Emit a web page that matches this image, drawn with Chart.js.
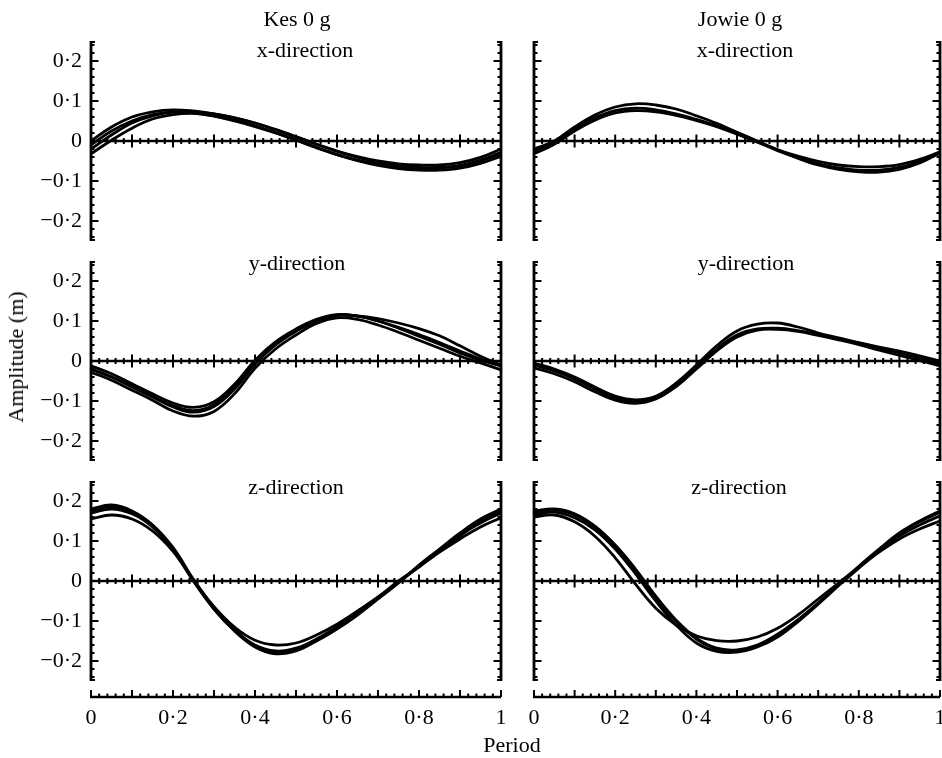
<!DOCTYPE html>
<html>
<head>
<meta charset="utf-8">
<script src="https://cdn.jsdelivr.net/npm/chart.js@4.4.1/dist/chart.umd.min.js"></script>
<style>
  body { margin: 0; background: #fff; }
  #wrap { position: relative; width: 942px; height: 758px; background: #fff; overflow: hidden; }
  #wrap canvas { position: absolute; left: 0; top: 0; }
  .lbl { position: absolute; font-family: "Liberation Serif", "DejaVu Serif", serif; font-size: 22px; color: #000;
         transform: translate(-50%, -50%); white-space: nowrap; line-height: 1; }
</style>
</head>
<body>
<div id="wrap">
  <canvas id="c1" width="942" height="758"></canvas>
  <canvas id="c2" width="942" height="758"></canvas>
  <canvas id="c3" width="942" height="758"></canvas>
  <canvas id="c4" width="942" height="758"></canvas>
  <canvas id="c5" width="942" height="758"></canvas>
  <canvas id="c6" width="942" height="758"></canvas>
  <div class="lbl" style="left:297px;top:19px">Kes 0 g</div>
  <div class="lbl" style="left:740px;top:19px">Jowie 0 g</div>
  <div class="lbl" style="left:305px;top:50px">x-direction</div>
  <div class="lbl" style="left:745px;top:50px">x-direction</div>
  <div class="lbl" style="left:297px;top:263px">y-direction</div>
  <div class="lbl" style="left:746px;top:263px">y-direction</div>
  <div class="lbl" style="left:296px;top:487px">z-direction</div>
  <div class="lbl" style="left:739px;top:487px">z-direction</div>
  <div class="lbl" style="left:16px;top:357px;transform:translate(-50%,-50%) rotate(-90deg)">Amplitude (m)</div>
  <div class="lbl" style="left:512px;top:745px">Period</div>
</div>
<script>
// period (fraction of cycle)
var period = [0, 0.05, 0.1, 0.15, 0.2, 0.25, 0.3, 0.35, 0.4, 0.45, 0.5, 0.55, 0.6, 0.65, 0.7, 0.75, 0.8, 0.85, 0.9, 0.95, 1];

// Kes 0g, amplitude (m), one row per trial
var kesX = [
  [0.0, 0.035, 0.06, 0.073, 0.078, 0.075, 0.068, 0.058, 0.045, 0.029, 0.011, -0.008, -0.025, -0.039, -0.05, -0.057, -0.06, -0.06, -0.054, -0.041, -0.02],
  [-0.02, 0.015, 0.045, 0.063, 0.072, 0.073, 0.068, 0.058, 0.045, 0.028, 0.01, -0.008, -0.026, -0.041, -0.053, -0.061, -0.066, -0.066, -0.062, -0.05, -0.032],
  [-0.032, 0.002, 0.032, 0.055, 0.066, 0.069, 0.063, 0.052, 0.038, 0.021, 0.003, -0.016, -0.034, -0.049, -0.061, -0.069, -0.073, -0.073, -0.068, -0.056, -0.038],
  [-0.01, 0.025, 0.05, 0.066, 0.073, 0.07, 0.062, 0.05, 0.036, 0.02, 0.002, -0.017, -0.034, -0.048, -0.058, -0.064, -0.068, -0.067, -0.061, -0.048, -0.028]
];
var kesY = [
  [-0.012, -0.032, -0.057, -0.082, -0.105, -0.116, -0.102, -0.058, 0.002, 0.048, 0.08, 0.104, 0.116, 0.112, 0.1, 0.082, 0.062, 0.042, 0.02, 0.002, -0.012],
  [-0.02, -0.04, -0.065, -0.09, -0.115, -0.128, -0.114, -0.07, -0.008, 0.04, 0.074, 0.1, 0.114, 0.112, 0.1, 0.084, 0.066, 0.046, 0.025, 0.005, -0.012],
  [-0.028, -0.048, -0.073, -0.098, -0.125, -0.138, -0.126, -0.082, -0.018, 0.03, 0.065, 0.094, 0.108, 0.104, 0.09, 0.072, 0.052, 0.032, 0.012, -0.005, -0.022],
  [-0.02, -0.04, -0.063, -0.088, -0.112, -0.124, -0.109, -0.064, -0.004, 0.044, 0.077, 0.102, 0.115, 0.113, 0.106, 0.095, 0.081, 0.063, 0.038, 0.012, -0.01]
];
var kesZ = [
  [0.18, 0.19, 0.175, 0.14, 0.08, 0.0, -0.07, -0.125, -0.165, -0.182, -0.175, -0.15, -0.12, -0.085, -0.045, -0.005, 0.04, 0.08, 0.12, 0.155, 0.18],
  [0.17, 0.18, 0.168, 0.135, 0.078, 0.0, -0.07, -0.123, -0.16, -0.175, -0.168, -0.145, -0.115, -0.08, -0.042, -0.002, 0.038, 0.078, 0.115, 0.145, 0.17],
  [0.155, 0.165, 0.155, 0.125, 0.074, 0.002, -0.064, -0.115, -0.148, -0.16, -0.155, -0.135, -0.108, -0.075, -0.04, 0.0, 0.035, 0.072, 0.105, 0.135, 0.158],
  [0.175, 0.185, 0.172, 0.14, 0.084, 0.004, -0.066, -0.12, -0.163, -0.18, -0.172, -0.148, -0.118, -0.082, -0.044, -0.004, 0.036, 0.075, 0.112, 0.15, 0.175]
];

// Jowie 0g
var jowieX = [
  [-0.02, 0.0, 0.035, 0.065, 0.085, 0.093, 0.09, 0.08, 0.063, 0.044, 0.022, 0.0, -0.022, -0.043, -0.06, -0.071, -0.077, -0.078, -0.071, -0.055, -0.03],
  [-0.032, -0.008, 0.025, 0.052, 0.07, 0.076, 0.073, 0.064, 0.051, 0.036, 0.017, -0.003, -0.022, -0.038, -0.051, -0.06, -0.064, -0.064, -0.059, -0.046, -0.027],
  [-0.025, -0.004, 0.03, 0.058, 0.076, 0.082, 0.078, 0.068, 0.054, 0.038, 0.019, -0.002, -0.024, -0.042, -0.057, -0.067, -0.073, -0.073, -0.066, -0.052, -0.03]
];
var jowieY = [
  [-0.005, -0.02, -0.04, -0.065, -0.088, -0.097, -0.088, -0.055, -0.01, 0.038, 0.075, 0.092, 0.095, 0.085, 0.07, 0.058, 0.046, 0.035, 0.025, 0.013, 0.0],
  [-0.01, -0.025, -0.045, -0.07, -0.092, -0.1, -0.09, -0.06, -0.015, 0.03, 0.065, 0.08, 0.082, 0.076, 0.066, 0.056, 0.045, 0.033, 0.02, 0.007, -0.006],
  [-0.017, -0.032, -0.052, -0.077, -0.098, -0.106, -0.095, -0.064, -0.02, 0.025, 0.06, 0.077, 0.079, 0.074, 0.064, 0.053, 0.041, 0.027, 0.014, 0.001, -0.012]
];
var jowieZ = [
  [0.16, 0.165, 0.148, 0.112, 0.058, -0.008, -0.068, -0.11, -0.137, -0.149, -0.15, -0.14, -0.118, -0.085, -0.045, -0.005, 0.035, 0.072, 0.105, 0.13, 0.15],
  [0.17, 0.178, 0.165, 0.135, 0.088, 0.026, -0.042, -0.1, -0.145, -0.17, -0.175, -0.162, -0.135, -0.098, -0.055, -0.01, 0.035, 0.078, 0.118, 0.148, 0.172],
  [0.165, 0.172, 0.158, 0.128, 0.08, 0.018, -0.05, -0.11, -0.155, -0.176, -0.178, -0.165, -0.14, -0.102, -0.058, -0.012, 0.032, 0.074, 0.112, 0.14, 0.163],
  [0.175, 0.18, 0.168, 0.137, 0.09, 0.03, -0.038, -0.098, -0.143, -0.168, -0.172, -0.16, -0.133, -0.097, -0.055, -0.01, 0.037, 0.08, 0.12, 0.15, 0.175]
];

var xTickValues = [0, 0.2, 0.4, 0.6, 0.8, 1];
var xTickLabels = ['0', '0\u00b72', '0\u00b74', '0\u00b76', '0\u00b78', '1'];
var yTickValues = [-0.2, -0.1, 0, 0.1, 0.2];
var yTickLabels = ['\u22120\u00b72', '\u22120\u00b71', '0', '0\u00b71', '0\u00b72'];

Chart.defaults.font.family = '"Liberation Serif", "DejaVu Serif", serif';
Chart.defaults.color = '#000';

// draws the journal-style axes: inward ticks, zero line with crosses, detached period axis
var paperAxes = {
    id: 'paperAxes',
    afterDatasetsDraw: function (chart, args, opts) {
        var ctx = chart.ctx;
        var a = chart.chartArea;
        var xs = chart.scales.x, ys = chart.scales.y;
        var i, v, p, len;
        ctx.save();
        ctx.strokeStyle = '#000';
        ctx.lineCap = 'butt';
        // vertical axes, both sides
        ctx.lineWidth = 2.8;
        ctx.beginPath();
        ctx.moveTo(a.left, a.top); ctx.lineTo(a.left, a.bottom);
        ctx.moveTo(a.right, a.top); ctx.lineTo(a.right, a.bottom);
        ctx.stroke();
        ctx.lineWidth = 2;
        ctx.beginPath();
        for (i = -12; i <= 12; i++) {
            v = i * 0.02;
            p = ys.getPixelForValue(v);
            len = (i % 5 === 0) ? 7.5 : 3.5;
            ctx.moveTo(a.left, p); ctx.lineTo(a.left + len, p);
            ctx.moveTo(a.right, p); ctx.lineTo(a.right - len, p);
        }
        // end caps
        ctx.moveTo(a.left, a.top + 1); ctx.lineTo(a.left + 4, a.top + 1);
        ctx.moveTo(a.left, a.bottom - 1); ctx.lineTo(a.left + 4, a.bottom - 1);
        ctx.moveTo(a.right, a.top + 1); ctx.lineTo(a.right - 4, a.top + 1);
        ctx.moveTo(a.right, a.bottom - 1); ctx.lineTo(a.right - 4, a.bottom - 1);
        ctx.stroke();
        // zero line with crossing ticks
        var y0 = ys.getPixelForValue(0);
        ctx.lineWidth = 2.4;
        ctx.beginPath();
        ctx.moveTo(a.left, y0); ctx.lineTo(a.right, y0);
        ctx.stroke();
        ctx.lineWidth = 2;
        ctx.beginPath();
        for (i = 1; i < 50; i++) {
            p = xs.getPixelForValue(i * 0.02);
            len = (i % 5 === 0) ? 6.5 : 3;
            ctx.moveTo(p, y0 - len); ctx.lineTo(p, y0 + len);
        }
        ctx.stroke();
        // detached period axis under the bottom row
        if (opts.bottomAxis) {
            var yb = a.bottom + 16;
            ctx.lineWidth = 2.6;
            ctx.beginPath();
            ctx.moveTo(a.left - 1, yb); ctx.lineTo(a.right, yb);
            ctx.stroke();
            ctx.lineWidth = 2;
            ctx.beginPath();
            for (i = 0; i <= 50; i++) {
                p = xs.getPixelForValue(i * 0.02);
                len = (i % 5 === 0) ? 7 : 3.5;
                ctx.moveTo(p, yb); ctx.lineTo(p, yb - len);
            }
            ctx.stroke();
        }
        ctx.restore();
    }
};

var colLeft = [91, 501];
var colRight = [534, 940];
var rowTop = [41, 261, 481];
var panelHeight = 200;

function makePanel(id, col, row, traces) {
    var left = col === 0;
    var bottom = row === 2;
    var cx = left ? colLeft : colRight;
    var top = rowTop[row];
    var datasets = traces.map(function (tr) {
        return {
            data: period.map(function (x, k) { return { x: x, y: tr[k] }; }),
            borderColor: '#000',
            borderWidth: 2.8,
            pointRadius: 0,
            tension: 0.4,
            fill: false
        };
    });
    new Chart(document.getElementById(id), {
        type: 'line',
        data: { datasets: datasets },
        plugins: [paperAxes],
        options: {
            responsive: false,
            animation: false,
            events: [],
            layout: {
                padding: {
                    left: left ? 0 : cx[0],
                    right: 942 - cx[1],
                    top: top,
                    bottom: bottom ? 758 - (top + panelHeight) - 50 : 758 - (top + panelHeight)
                }
            },
            plugins: {
                legend: { display: false },
                tooltip: { enabled: false },
                paperAxes: { bottomAxis: bottom }
            },
            scales: {
                x: {
                    type: 'linear',
                    min: 0,
                    max: 1,
                    display: bottom,
                    grid: { display: false, drawTicks: false },
                    border: { display: false },
                    afterBuildTicks: function (s) { s.ticks = xTickValues.map(function (v) { return { value: v }; }); },
                    afterFit: function (s) {
                        s.height = bottom ? 50 : 0;
                        s.paddingLeft = 0; s.paddingRight = 0;
                    },
                    ticks: {
                        padding: 24,
                        maxRotation: 0,
                        autoSkip: false,
                        font: { size: 22 },
                        callback: function (v, i) { return xTickLabels[i]; }
                    }
                },
                y: {
                    type: 'linear',
                    min: -0.25,
                    max: 0.25,
                    display: left,
                    grid: { display: false, drawTicks: false },
                    border: { display: false },
                    afterBuildTicks: function (s) { s.ticks = yTickValues.map(function (v) { return { value: v }; }); },
                    afterFit: function (s) {
                        s.width = left ? cx[0] : 0;
                        s.paddingTop = 0; s.paddingBottom = 0;
                    },
                    ticks: {
                        padding: 9,
                        autoSkip: false,
                        font: { size: 22 },
                        callback: function (v, i) { return yTickLabels[i]; }
                    }
                }
            }
        }
    });
}

makePanel('c1', 0, 0, kesX);
makePanel('c2', 1, 0, jowieX);
makePanel('c3', 0, 1, kesY);
makePanel('c4', 1, 1, jowieY);
makePanel('c5', 0, 2, kesZ);
makePanel('c6', 1, 2, jowieZ);
</script>
</body>
</html>
